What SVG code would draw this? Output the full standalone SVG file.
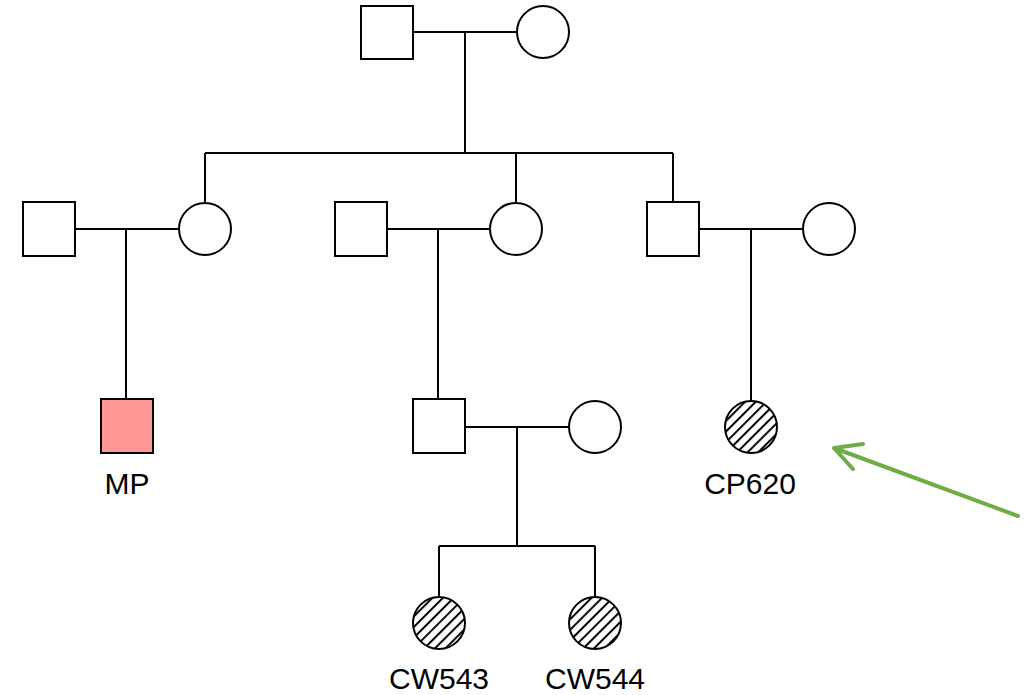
<svg xmlns="http://www.w3.org/2000/svg" width="1032" height="695" viewBox="0 0 1032 695">
<style>
.n{fill:#fff;stroke:#000;stroke-width:2}
.a{fill:#ff9797;stroke:#000;stroke-width:2}
.h{fill:url(#hatch);stroke:#000;stroke-width:2}
.l{stroke:#000;stroke-width:2;fill:none}
.t{font-family:"Liberation Sans",Arial,sans-serif;font-size:30px;fill:#000;text-anchor:middle}
.ar{stroke:#70ad47;stroke-width:4;fill:none;stroke-linecap:round;stroke-linejoin:round}
</style>
<defs>
<pattern id="hatch" patternUnits="userSpaceOnUse" width="7.5" height="7.5" patternTransform="rotate(45)">
<rect width="7.5" height="7.5" fill="#fff"/>
<line x1="1" y1="0" x2="1" y2="7.5" stroke="#000" stroke-width="2"/>
</pattern>
</defs>
<g id="connectors">
<path class="l" d="M413 32H517M465 32V153M205 153H673M205 153V203M516 153V203M673 153V203"/>
<path class="l" d="M75 229H179M126 229V399"/>
<path class="l" d="M387 229H490M438 229V399"/>
<path class="l" d="M699 229H803M751 229V401"/>
<path class="l" d="M465 427H569M517 427V546M439 546H595M439 546V597M595 546V597"/>
</g>
<g id="gp-m"><rect class="n" x="361" y="6" width="52" height="53"/></g>
<g id="gp-f"><circle class="n" cx="543" cy="32" r="26"/></g>
<g id="p1-m"><rect class="n" x="23" y="202" width="52" height="54"/></g>
<g id="p1-f"><circle class="n" cx="205" cy="229" r="26"/></g>
<g id="p2-m"><rect class="n" x="335" y="202" width="52" height="54"/></g>
<g id="p2-f"><circle class="n" cx="516" cy="229" r="26"/></g>
<g id="p3-m"><rect class="n" x="647" y="202" width="52" height="54"/></g>
<g id="p3-f"><circle class="n" cx="829" cy="229" r="26"/></g>
<g id="mp"><rect class="a" x="101" y="399" width="52" height="54"/><text class="t" x="127" y="494">MP</text></g>
<g id="g3-m"><rect class="n" x="413" y="399" width="52" height="54"/></g>
<g id="g3-f"><circle class="n" cx="595" cy="427" r="26"/></g>
<g id="cp620"><circle class="h" cx="751" cy="427" r="26"/><text class="t" x="750" y="494">CP620</text></g>
<g id="cw543"><circle class="h" cx="439" cy="623" r="26"/><text class="t" x="439" y="689">CW543</text></g>
<g id="cw544"><circle class="h" cx="595" cy="623" r="26"/><text class="t" x="595" y="689">CW544</text></g>
<g id="arrow">
<path class="ar" d="M1018 516L834 448M863 444L834 448L853 469"/>
</g>
</svg>
